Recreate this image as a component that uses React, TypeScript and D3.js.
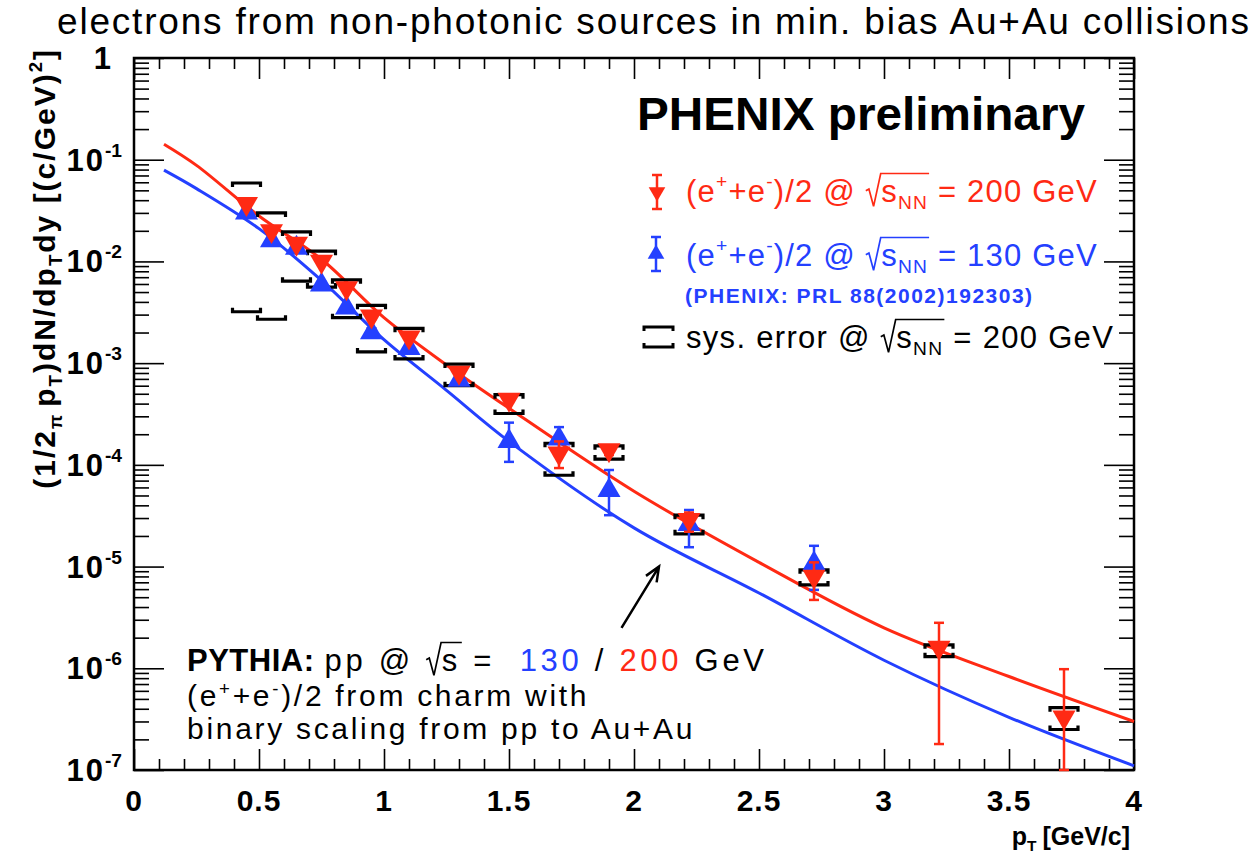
import * as d3 from "d3";
import React, { useEffect, useRef } from "react";

const W = 1258;
const H = 858;

const RED = "#ff2a14";
const BLUE = "#2440ff";

// (e+ + e-)/2 at sqrt(s_NN) = 200 GeV (red, down triangles)
const pt200 = [0.45, 0.55, 0.65, 0.75, 0.85, 0.95, 1.1, 1.3, 1.5, 1.7, 1.9, 2.22, 2.72, 3.22, 3.72];
const val200 = [3.7e-2, 2.0e-2, 1.5e-2, 1.0e-2, 5.5e-3, 2.9e-3, 1.8e-3, 8.1e-4, 4.4e-4, 1.3e-4, 1.4e-4, 2.9e-5, 8.0e-6, 1.6e-6, 3.3e-7];
const statLo200 = [3.5e-2, 1.9e-2, 1.42e-2, 9.5e-3, 5.2e-3, 2.7e-3, 1.7e-3, 7.6e-4, 4.1e-4, 9.3e-5, 1.25e-4, 2.2e-5, 4.7e-6, 1.8e-7, 1.0e-7];
const statHi200 = [3.9e-2, 2.1e-2, 1.58e-2, 1.05e-2, 5.8e-3, 3.1e-3, 1.9e-3, 8.6e-4, 4.7e-4, 1.7e-4, 1.55e-4, 3.4e-5, 1.1e-5, 2.8e-6, 9.8e-7];
const sysLo200 = [3.2e-3, 2.7e-3, 6.4e-3, 5.6e-3, 2.8e-3, 1.29e-3, 1.1e-3, 6.0e-4, 3.2e-4, 7.9e-5, 1.14e-4, 2.1e-5, 6.6e-6, 1.3e-6, 2.5e-7];
const sysHi200 = [5.9e-2, 3.0e-2, 1.95e-2, 1.26e-2, 6.6e-3, 3.7e-3, 2.2e-3, 9.8e-4, 4.9e-4, 1.63e-4, 1.54e-4, 3.2e-5, 9.3e-6, 1.7e-6, 4.1e-7];

// (e+ + e-)/2 at sqrt(s_NN) = 130 GeV (blue, up triangles)
const pt130 = [0.45, 0.55, 0.65, 0.75, 0.85, 0.95, 1.1, 1.3, 1.5, 1.7, 1.9, 2.22, 2.72];
const val130 = [3.0e-2, 1.6e-2, 1.35e-2, 5.9e-3, 3.5e-3, 2.0e-3, 1.4e-3, 6.8e-4, 1.7e-4, 1.8e-4, 5.6e-5, 2.6e-5, 1.07e-5];
const statLo130 = [2.8e-2, 1.5e-2, 1.27e-2, 5.5e-3, 3.3e-3, 1.8e-3, 1.3e-3, 6.3e-4, 1.07e-4, 1.3e-4, 3.2e-5, 1.55e-5, 5.9e-6];
const statHi130 = [3.2e-2, 1.7e-2, 1.43e-2, 6.3e-3, 3.7e-3, 2.2e-3, 1.5e-3, 7.3e-4, 2.6e-4, 2.35e-4, 8.9e-5, 3.6e-5, 1.6e-5];

// PYTHIA charm curves (binary scaled)
const pythiaPt = [0.12, 0.25, 0.5, 0.75, 1.0, 1.25, 1.5, 2.0, 2.5, 3.0, 3.5, 4.0];
const pythia200 = [0.142, 0.088, 0.028, 0.0105, 2.8e-3, 9.6e-4, 3.6e-4, 5.5e-5, 1.1e-5, 2.5e-6, 8.3e-7, 3.0e-7];
const pythia130 = [0.079, 0.052, 0.021, 6.5e-3, 1.7e-3, 5.4e-4, 1.7e-4, 2.4e-5, 5.5e-6, 1.2e-6, 3.3e-7, 1.1e-7];

// axis ticks
const xMajor = [0, 0.5, 1, 1.5, 2, 2.5, 3, 3.5, 4];
const xTickLabels = ["0", "0.5", "1", "1.5", "2", "2.5", "3", "3.5", "4"];
const yDecades = [0, -1, -2, -3, -4, -5, -6, -7];

type Seg = { t?: string; sup?: boolean; sub?: boolean; fill?: string; bold?: boolean; sqrt?: Seg[]; dx?: number; ls?: number };

// draws a run of text pieces one after another, returns end x
function rich(g: any, x0: number, y0: number, segs: Seg[], size: number, fill: string, bold: boolean, ls = 0, supRise = 0.45): number {
  let x = x0;
  segs.forEach((s) => {
    if (s.sqrt) {
      const start = x;
      const rx = x + size * 0.5;
      const end = rich(g, rx, y0, s.sqrt, size, s.fill || fill, bold, ls, supRise);
      const top = y0 - size * 0.92;
      g.append("path")
        .attr("d", `M${start},${y0 - size * 0.36} L${start + size * 0.1},${y0 - size * 0.42} L${start + size * 0.25},${y0 + size * 0.14} L${rx - size * 0.02},${top} L${end + size * 0.03},${top}`)
        .attr("fill", "none")
        .attr("stroke", s.fill || fill)
        .attr("stroke-width", size * 0.055);
      x = end;
      return;
    }
    const fs = s.sup || s.sub ? size * 0.62 : size;
    const dy = s.sup ? -size * supRise : s.sub ? size * 0.24 : 0;
    const t = g
      .append("text")
      .attr("x", x)
      .attr("y", y0 + dy)
      .attr("font-size", fs)
      .attr("font-weight", (s.bold ?? bold) ? "bold" : "normal")
      .attr("letter-spacing", s.ls ?? ls)
      .attr("fill", s.fill || fill)
      .style("white-space", "pre")
      .text(s.t);
    x += t.node().getComputedTextLength() + (s.dx || 0);
  });
  return x;
}

function App() {
  const svgRef = useRef<SVGSVGElement>(null);

  useEffect(() => {
    const svg = d3.select(svgRef.current);
    svg.selectAll("*").remove();

    const x = d3.scaleLinear().domain([0, 4]).range([134, 1134]);
    const y = d3.scaleLog().domain([1e-7, 1]).range([770, 58]);
    const [x0, x1] = x.range();
    const [yb, yt] = y.range();

    // title
    svg.append("text")
      .attr("x", 57).attr("y", 34)
      .attr("font-size", 37)
      .attr("textLength", 1192)
      .attr("lengthAdjust", "spacing")
      .text("electrons from non-photonic sources in min. bias Au+Au collisions");

    // ticks (ROOT style, inside the frame, on all four sides)
    const xMinor = d3.range(0, 41).map((i) => i / 10).filter((v) => Math.round(v * 10) % 5 !== 0);
    const yMinor = y.ticks().filter((v) => Math.abs(Math.log10(v) - Math.round(Math.log10(v))) > 1e-6);
    const tickStyle = (g: any) => {
      g.select(".domain").remove();
      g.selectAll("text").remove();
      g.selectAll("line").attr("stroke", "#000").attr("stroke-width", 1.6);
    };
    svg.append("g").attr("transform", `translate(0,${yb})`).call(d3.axisBottom(x).tickValues(xMajor).tickSize(-21)).call(tickStyle);
    svg.append("g").attr("transform", `translate(0,${yb})`).call(d3.axisBottom(x).tickValues(xMinor).tickSize(-11)).call(tickStyle);
    svg.append("g").attr("transform", `translate(0,${yt})`).call(d3.axisTop(x).tickValues(xMajor).tickSize(-21)).call(tickStyle);
    svg.append("g").attr("transform", `translate(0,${yt})`).call(d3.axisTop(x).tickValues(xMinor).tickSize(-11)).call(tickStyle);
    const decadeVals = yDecades.map((k) => Math.pow(10, k));
    svg.append("g").attr("transform", `translate(${x0},0)`).call(d3.axisLeft(y).tickValues(decadeVals).tickSize(-30)).call(tickStyle);
    svg.append("g").attr("transform", `translate(${x0},0)`).call(d3.axisLeft(y).tickValues(yMinor).tickSize(-15)).call(tickStyle);
    svg.append("g").attr("transform", `translate(${x1},0)`).call(d3.axisRight(y).tickValues(decadeVals).tickSize(-30)).call(tickStyle);
    svg.append("g").attr("transform", `translate(${x1},0)`).call(d3.axisRight(y).tickValues(yMinor).tickSize(-15)).call(tickStyle);

    // frame
    svg.append("rect")
      .attr("x", x0).attr("y", yt).attr("width", x1 - x0).attr("height", yb - yt)
      .attr("fill", "none").attr("stroke", "#000").attr("stroke-width", 2.5);

    // x tick labels
    svg.append("g").selectAll("text").data(xMajor).join("text")
      .attr("x", (d) => x(d)).attr("y", yb + 41)
      .attr("text-anchor", "middle").attr("font-size", 30).attr("font-weight", "bold")
      .attr("letter-spacing", 1)
      .text((d, i) => xTickLabels[i]);

    // y tick labels
    yDecades.forEach((k) => {
      const g = svg.append("g");
      const yy = y(Math.pow(10, k)) + 11;
      if (k === 0) {
        g.append("text").attr("x", 111).attr("y", yy).attr("text-anchor", "end")
          .attr("font-size", 31).attr("font-weight", "bold").text("1");
      } else {
        const end = rich(g, 0, yy, [{ t: "10", ls: 2 }, { t: `-${-k}`, sup: true }], 31, "#000", true);
        g.attr("transform", `translate(${122 - end},0)`);
      }
    });

    // axis titles
    const xt = svg.append("g");
    const xEnd = rich(xt, 0, yb + 75, [{ t: "p" }, { t: "T", sub: true, dx: 6 }, { t: "[GeV/c]" }], 25, "#000", true);
    xt.attr("transform", `translate(${1130 - xEnd},0)`);

    const ytg = svg.append("g").attr("transform", "translate(55,48) rotate(-90)");
    const ytIn = ytg.append("g");
    const yEnd = rich(ytIn, 0, 0, [
      { t: "(1/2" }, { t: "π", sub: true, dx: 6 }, { t: "p" }, { t: "T", sub: true }, { t: ")dN/dp" },
      { t: "T", sub: true }, { t: "dy [(c/GeV)" }, { t: "2", sup: true }, { t: "]" },
    ], 30, "#000", true, 2);
    ytIn.attr("transform", `translate(${-yEnd},0)`);

    // PYTHIA curves
    const line = (vals: number[]) =>
      d3.line<number>().x((d, i) => x(pythiaPt[i])).y((d) => y(d)).curve(d3.curveCatmullRom.alpha(0.5))(vals);
    svg.append("path").attr("d", line(pythia130)).attr("fill", "none").attr("stroke", BLUE).attr("stroke-width", 3);
    svg.append("path").attr("d", line(pythia200)).attr("fill", "none").attr("stroke", RED).attr("stroke-width", 3);

    // systematic error brackets (200 GeV)
    const bw = 14;
    const sys = svg.append("g").attr("stroke", "#000").attr("stroke-width", 3.2).attr("fill", "none");
    pt200.forEach((p, i) => {
      const cx = x(p);
      const hi = y(sysHi200[i]);
      const lo = y(sysLo200[i]);
      sys.append("path").attr("d", `M${cx - bw},${hi + 4} V${hi} H${cx + bw} V${hi + 4}`);
      sys.append("path").attr("d", `M${cx - bw},${lo - 4} V${lo} H${cx + bw} V${lo - 4}`);
    });

    const tri = d3.symbol(d3.symbolTriangle, 230);
    const triSmall = d3.symbol(d3.symbolTriangle, 120);

    const drawSeries = (pts: number[], vals: number[], lo: number[], hi: number[], color: string, down: boolean) => {
      const g = svg.append("g");
      pts.forEach((p, i) => {
        const cx = x(p);
        const a = y(Math.max(lo[i], 1e-7));
        const b = y(hi[i]);
        g.append("line").attr("x1", cx).attr("x2", cx).attr("y1", a).attr("y2", b).attr("stroke", color).attr("stroke-width", 2.5);
        g.append("line").attr("x1", cx - 5).attr("x2", cx + 5).attr("y1", a).attr("y2", a).attr("stroke", color).attr("stroke-width", 2.5);
        g.append("line").attr("x1", cx - 5).attr("x2", cx + 5).attr("y1", b).attr("y2", b).attr("stroke", color).attr("stroke-width", 2.5);
        g.append("path").attr("d", tri())
          .attr("transform", `translate(${cx},${y(vals[i])}) rotate(${down ? 180 : 0})`)
          .attr("fill", color);
      });
    };
    drawSeries(pt130, val130, statLo130, statHi130, BLUE, false);
    drawSeries(pt200, val200, statLo200, statHi200, RED, true);

    // PHENIX preliminary
    svg.append("text").attr("x", 637).attr("y", 130)
      .attr("font-size", 46).attr("font-weight", "bold")
      .attr("textLength", 448).attr("lengthAdjust", "spacingAndGlyphs")
      .text("PHENIX preliminary");

    // legend
    const leg = svg.append("g");
    const legendMarker = (cx: number, cy: number, color: string, down: boolean) => {
      leg.append("line").attr("x1", cx).attr("x2", cx).attr("y1", cy - 17).attr("y2", cy + 17).attr("stroke", color).attr("stroke-width", 2.5);
      [cy - 17, cy + 17].forEach((yy) =>
        leg.append("line").attr("x1", cx - 5).attr("x2", cx + 5).attr("y1", yy).attr("y2", yy).attr("stroke", color).attr("stroke-width", 2.5));
      leg.append("path").attr("d", triSmall()).attr("transform", `translate(${cx},${cy}) rotate(${down ? 180 : 0})`).attr("fill", color);
    };
    legendMarker(657, 192, RED, true);
    legendMarker(656, 254, BLUE, false);
    const eeParts = (energy: string): Seg[] => [
      { t: "(e" }, { t: "+", sup: true }, { t: "+e" }, { t: "-", sup: true }, { t: ")/2 @ " },
      { sqrt: [{ t: "s" }, { t: "NN", sub: true }] }, { t: ` = ${energy} GeV` },
    ];
    rich(leg, 686, 202, eeParts("200"), 31, RED, false, 1.2);
    rich(leg, 686, 266, eeParts("130"), 31, BLUE, false, 1.2);
    leg.append("text").attr("x", 685).attr("y", 303).attr("font-size", 21).attr("font-weight", "bold")
      .attr("letter-spacing", 1.5).attr("fill", BLUE).text("(PHENIX: PRL 88(2002)192303)");
    leg.append("path").attr("d", "M644,331 V327 H673 V331 M644,343 V347 H673 V343")
      .attr("fill", "none").attr("stroke", "#000").attr("stroke-width", 3);
    rich(leg, 686, 348, [{ t: "sys. error @ " }, { sqrt: [{ t: "s" }, { t: "NN", sub: true }] }, { t: " = 200 GeV" }], 31, "#000", false, 1.3);

    // arrow pointing at the PYTHIA curve
    const ax0 = x(1.95), ay0 = y(2.5e-6), ax1 = x(2.1), ay1 = y(1.0e-5);
    const ang = Math.atan2(ay1 - ay0, ax1 - ax0);
    const hl = 16;
    svg.append("path")
      .attr("d", `M${ax0},${ay0} L${ax1},${ay1} M${ax1 - hl * Math.cos(ang - 0.4)},${ay1 - hl * Math.sin(ang - 0.4)} L${ax1},${ay1} L${ax1 - hl * Math.cos(ang + 0.4)},${ay1 - hl * Math.sin(ang + 0.4)}`)
      .attr("fill", "none").attr("stroke", "#000").attr("stroke-width", 2.5);

    // PYTHIA annotation
    const pg = svg.append("g");
    rich(pg, 187, 671, [
      { t: "PYTHIA:", bold: true, ls: 0.5, dx: 10 }, { t: "pp @ " }, { sqrt: [{ t: "s" }] }, { t: " =  " },
      { t: "130", fill: BLUE }, { t: " / " }, { t: "200", fill: RED }, { t: " GeV" },
    ], 31, "#000", false, 3.7);
    rich(pg, 187, 706, [{ t: "(e" }, { t: "+", sup: true }, { t: "+e" }, { t: "-", sup: true }, { t: ")/2 from charm with" }], 30, "#000", false, 2.7, 0.38);
    rich(pg, 187, 739, [{ t: "binary scaling from pp to Au+Au" }], 30, "#000", false, 2.7);
  }, []);

  return (
    <svg
      ref={svgRef}
      width={W}
      height={H}
      style={{ position: "absolute", left: 0, top: 0, background: "#fff", fontFamily: "'Liberation Sans', Arial, Helvetica, sans-serif" }}
    />
  );
}

export default App;
